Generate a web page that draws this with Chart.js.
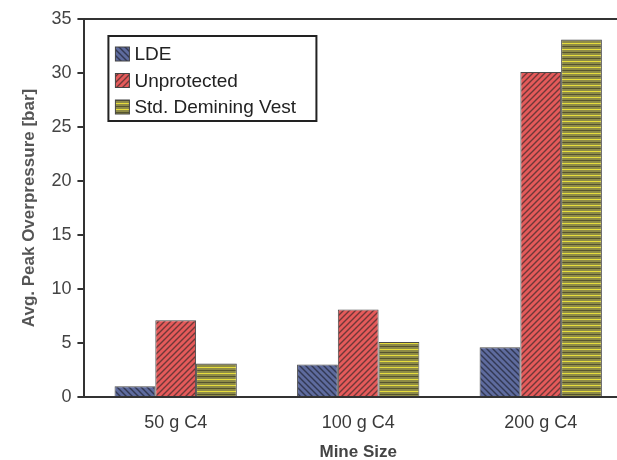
<!DOCTYPE html>
<html>
<head>
<meta charset="utf-8">
<script src="https://cdn.jsdelivr.net/npm/chart.js@4/dist/chart.umd.min.js"></script>
<style>
  html, body { margin: 0; padding: 0; background: #fff; overflow: hidden; }
  #wrap { position: relative; width: 660px; height: 460px; }
</style>
</head>
<body>
<div id="wrap"><canvas id="myChart" width="660" height="460"></canvas></div>
<script>
const mineSizes = ['50 g C4', '100 g C4', '200 g C4'];
const ldeValues = [1.0, 3.0, 4.6];
const unprotectedValues = [7.1, 8.1, 30.1];
const vestValues = [3.1, 5.1, 33.1];
const seriesNames = ['LDE', 'Unprotected', 'Std. Demining Vest'];

const FONT = '"Liberation Sans", Arial, sans-serif';

// hatch fills like the old spreadsheet chart
const makePattern = (kind) => {
  const c = document.createElement('canvas');
  const s = 6;
  c.width = s; c.height = s;
  const g = c.getContext('2d');
  if (kind === 'lde') {
    g.fillStyle = '#5e6b9e'; g.fillRect(0, 0, s, s);
    g.strokeStyle = '#323852'; g.lineWidth = 1.4;
    g.beginPath();
    g.moveTo(-1, -1); g.lineTo(s + 1, s + 1);
    g.moveTo(-1, s - 1); g.lineTo(1, s + 1);
    g.moveTo(s - 1, -1); g.lineTo(s + 1, 1);
    g.stroke();
  } else if (kind === 'red') {
    g.fillStyle = '#e55a5a'; g.fillRect(0, 0, s, s);
    g.strokeStyle = '#6e3838'; g.lineWidth = 1.4;
    g.beginPath();
    g.moveTo(-1, s + 1); g.lineTo(s + 1, -1);
    g.moveTo(-1, 1); g.lineTo(1, -1);
    g.moveTo(s - 1, s + 1); g.lineTo(s + 1, s - 1);
    g.stroke();
  } else {
    g.fillStyle = '#8e8b47'; g.fillRect(0, 0, s, s);
    g.fillStyle = '#e6dc3c'; g.fillRect(0, 1, s, 1);
    g.fillStyle = '#56542f'; g.fillRect(0, 4, s, 1);
  }
  return document.getElementById('myChart').getContext('2d').createPattern(c, 'repeat');
};

const fills = [makePattern('lde'), makePattern('red'), makePattern('vest')];

const framePlugin = {
  id: 'frame',
  afterDraw(chart) {
    const { ctx, chartArea } = chart;
    ctx.save();
    ctx.strokeStyle = '#333';
    ctx.lineWidth = 2;
    ctx.beginPath();
    ctx.moveTo(chartArea.left, chartArea.top);
    ctx.lineTo(chartArea.right, chartArea.top);
    ctx.stroke();

    // legend box inside the plot
    const x = chartArea.left + 24, y = chartArea.top + 17;
    const w = 208, h = 85;
    ctx.fillStyle = '#fff';
    ctx.fillRect(x, y, w, h);
    ctx.lineWidth = 2;
    ctx.strokeStyle = '#222';
    ctx.strokeRect(x, y, w, h);
    ctx.font = '19px ' + FONT;
    ctx.textBaseline = 'middle';
    seriesNames.forEach((name, i) => {
      const cy = y + 18 + i * 26.5;
      ctx.fillStyle = fills[i];
      ctx.fillRect(x + 7, cy - 7, 14, 14);
      ctx.lineWidth = 1;
      ctx.strokeStyle = '#444';
      ctx.strokeRect(x + 7, cy - 7, 14, 14);
      ctx.fillStyle = '#222';
      ctx.fillText(name, x + 26, cy + 1);
    });
    ctx.restore();
  }
};

const ctx = document.getElementById('myChart').getContext('2d');
const chart = new Chart(ctx, {
  type: 'bar',
  data: {
    labels: mineSizes,
    datasets: [
      { label: seriesNames[0], data: ldeValues, backgroundColor: fills[0] },
      { label: seriesNames[1], data: unprotectedValues, backgroundColor: fills[1] },
      { label: seriesNames[2], data: vestValues, backgroundColor: fills[2] },
    ].map(d => Object.assign(d, { borderColor: '#4a4a4a', borderWidth: 1, barPercentage: 1, categoryPercentage: 0.67 }))
  },
  options: {
    responsive: false,
    animation: false,
    layout: { padding: { top: 19, right: 28, left: 19, bottom: -3 } },
    plugins: { legend: { display: false }, tooltip: { enabled: false } },
    scales: {
      x: {
        grid: { display: false, drawTicks: false },
        border: { color: '#333', width: 2 },
        ticks: { color: '#3a3a3a', padding: 15, font: { family: FONT, size: 18 } },
        title: { display: true, text: 'Mine Size', color: '#444', padding: { top: -6, bottom: 0 },
          font: { family: FONT, size: 17, weight: 'bold' } }
      },
      y: {
        min: 0, max: 35,
        ticks: { stepSize: 5, color: '#444', padding: 6, font: { family: FONT, size: 18 } },
        grid: { drawOnChartArea: false, drawTicks: true, tickLength: 7, color: '#333', lineWidth: 2 },
        border: { color: '#333', width: 2 },
        title: { display: true, text: 'Avg. Peak Overpressure [bar]', color: '#555', padding: { top: 0, bottom: 6 },
          font: { family: FONT, size: 17, weight: 'bold' } }
      }
    }
  },
  plugins: [framePlugin]
});
</script>
</body>
</html>
